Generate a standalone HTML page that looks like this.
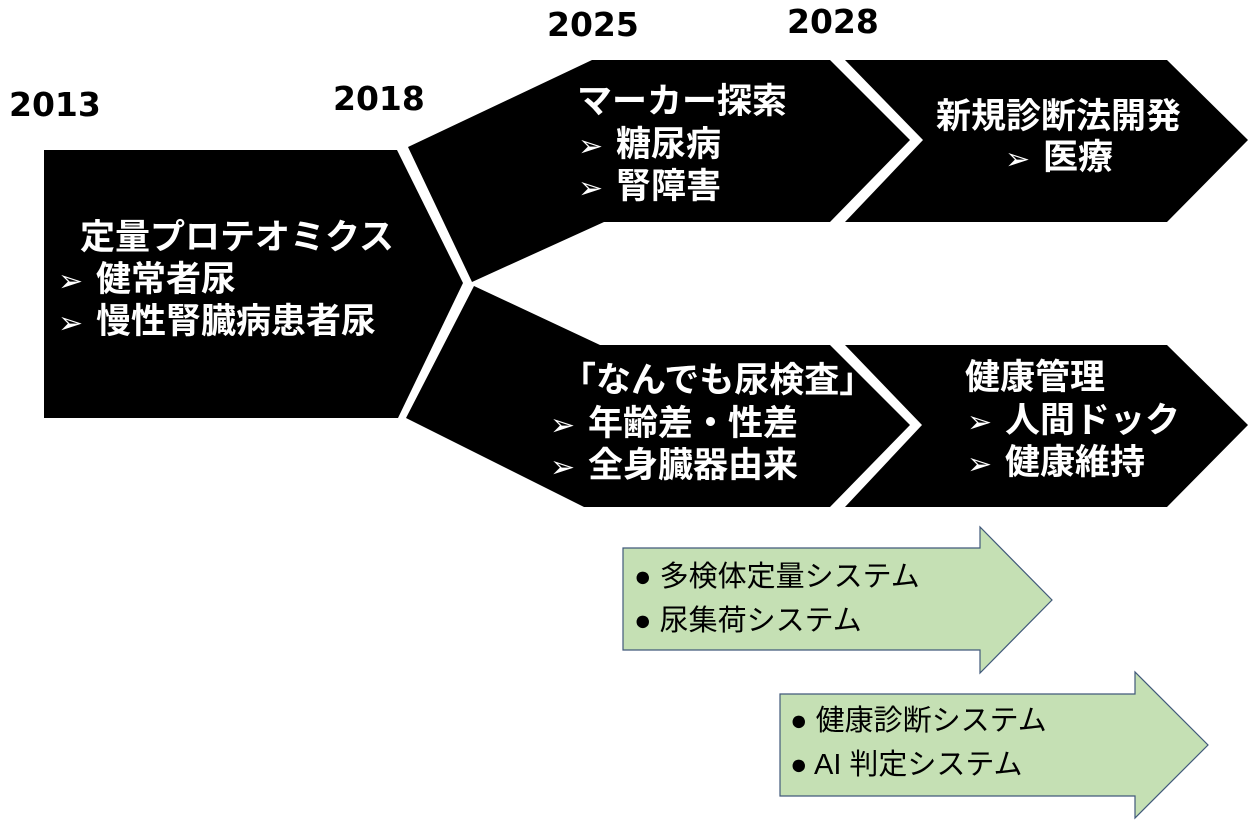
<!DOCTYPE html>
<html><head><meta charset="utf-8"><style>
body{margin:0;width:1258px;height:827px;background:#fff;position:relative;overflow:hidden;font-family:"Liberation Sans","Noto Sans CJK JP",sans-serif}
.t{position:absolute;white-space:nowrap;line-height:1;color:#fff;font-weight:bold;font-size:35px}
.y{position:absolute;white-space:nowrap;line-height:1;color:#000;font-weight:bold;font-size:33px;font-family:"DejaVu Sans","Liberation Sans",sans-serif}
.g{position:absolute;white-space:nowrap;line-height:1;color:#000;font-size:29px}
.a{font-size:30px;font-family:"DejaVu Sans",sans-serif;font-weight:normal;display:inline-block;width:38px}
</style></head><body>
<svg width="1258" height="827" style="position:absolute;left:0;top:0">
<polygon points="44,150 397,150 463,283 398,418 44,418" fill="#000"/>
<polygon points="408,147 592,60 830,60 910,140 830,222 604,222 472,282" fill="#000"/>
<polygon points="474,286 600,345 830,345 910,425 830,507 584,507 406,418" fill="#000"/>
<polygon points="845,60 1167,60 1248,140 1167,222 845,222 923,140" fill="#000"/>
<polygon points="845,345 1167,345 1248,425 1167,507 845,507 922,425" fill="#000"/>
<polygon points="623,548 980,548 980,527 1052,600 980,673 980,650 623,650" fill="#c5e0b4" stroke="#41597a" stroke-width="1.2"/>
<polygon points="780,694 1135,694 1135,672 1208,745 1135,818 1135,796 780,796" fill="#c5e0b4" stroke="#41597a" stroke-width="1.2"/>
</svg>
<div class="y" style="left:9px;top:88px">2013</div>
<div class="y" style="left:333px;top:82px">2018</div>
<div class="y" style="left:547px;top:8px">2025</div>
<div class="y" style="left:787px;top:5px">2028</div>

<div class="t" style="left:80px;top:220px">定量プロテオミクス</div>
<div class="t" style="left:58px;top:262px"><span class="a">➢</span>健常者尿</div>
<div class="t" style="left:58px;top:304px"><span class="a">➢</span>慢性腎臓病患者尿</div>

<div class="t" style="left:577px;top:84px">マーカー探索</div>
<div class="t" style="left:578px;top:127px"><span class="a">➢</span>糖尿病</div>
<div class="t" style="left:578px;top:169px"><span class="a">➢</span>腎障害</div>

<div class="t" style="left:936px;top:99px">新規診断法開発</div>
<div class="t" style="left:1005px;top:140px"><span class="a">➢</span>医療</div>

<div class="t" style="left:561px;top:363px">「なんでも尿検査」</div>
<div class="t" style="left:550px;top:406px"><span class="a">➢</span>年齢差・性差</div>
<div class="t" style="left:550px;top:448px"><span class="a">➢</span>全身臓器由来</div>

<div class="t" style="left:965px;top:360px">健康管理</div>
<div class="t" style="left:967px;top:403px"><span class="a">➢</span>人間ドック</div>
<div class="t" style="left:967px;top:445px"><span class="a">➢</span>健康維持</div>

<div class="g" style="left:634px;top:563px">● 多検体定量システム</div>
<div class="g" style="left:634px;top:607px">● 尿集荷システム</div>
<div class="g" style="left:790px;top:707px">● 健康診断システム</div>
<div class="g" style="left:790px;top:751px">● AI 判定システム</div>
</body></html>
